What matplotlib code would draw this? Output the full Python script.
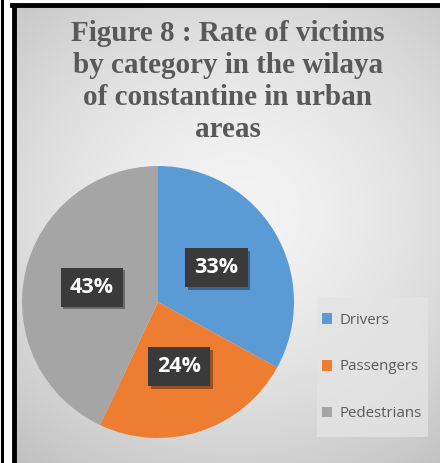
import numpy as np
import matplotlib
matplotlib.use("Agg")
import matplotlib.pyplot as plt
import matplotlib.patheffects as pe
from matplotlib.lines import Line2D
from matplotlib.patches import Rectangle

categories = ["Drivers", "Passengers", "Pedestrians"]
shares = [33, 24, 43]
colors = ["#5B9BD5", "#ED7D31", "#A5A5A5"]
title = "Figure 8 : Rate of victims\nby category in the wilaya\nof constantine in urban\nareas"

W, H = 440, 463
fig = plt.figure(figsize=(W / 100, H / 100), dpi=100, facecolor="white")

# background panel with soft radial gradient, drawn in pixel coords
bg = fig.add_axes([0, 0, 1, 1])
bg.set_xlim(0, W)
bg.set_ylim(H, 0)
bg.axis("off")
yy, xx = np.mgrid[0:H, 0:W]
dist = np.hypot((xx - 230) / 1.0, (yy - 210) / 0.9)
val = np.clip(0.955 - (dist / 380) ** 1.6 * 0.22, 0.72, 0.96)
bg.imshow(np.dstack([val] * 3), extent=(14, W, H, 5), aspect="auto", zorder=0)
bg.add_line(Line2D([1.5, 1.5], [0, H], color="black", lw=2.2))
bg.add_line(Line2D([13.5, 13.5], [H, 4.5], color="black", lw=3.5))
bg.add_line(Line2D([12, W], [4.5, 4.5], color="black", lw=3.5))
# legend panel
bg.add_patch(Rectangle((317, 297), 111, 140, facecolor="#e4e4e4", alpha=0.8,
                       edgecolor="none", zorder=1))

fig.text(0.518, 0.957, title, ha="center", va="top", family="Liberation Serif",
         weight="bold", fontsize=21, color="#595959", linespacing=1.24)

ax = fig.add_axes([22 / W, (H - 438) / H, 272 / W, 272 / H])
wedges, texts, autotexts = ax.pie(
    shares, colors=colors, startangle=90, counterclock=False,
    autopct="%1.0f%%", pctdistance=0.5, radius=1,
    wedgeprops=dict(linewidth=0),
    textprops=dict(color="white", fontsize=15.5, weight="bold", family="Open Sans"))
ax.set_xlim(-1, 1)
ax.set_ylim(-1, 1)
ax.set_aspect("equal")
for t in autotexts:
    t.set_bbox(dict(boxstyle="square,pad=0.42", facecolor="#3a3a3a", edgecolor="none"))
    t.get_bbox_patch().set_path_effects(
        [pe.withSimplePatchShadow(offset=(2, -2), shadow_rgbFace="black", alpha=0.35)])

leg = fig.legend(wedges, categories, loc="center",
                 bbox_to_anchor=(371.5 / W, (H - 367) / H), borderaxespad=0,
                 frameon=False, handlelength=0.7, handleheight=0.7, handletextpad=0.45,
                 labelspacing=2.12, borderpad=0.3,
                 prop=dict(family="Open Sans", size=10.8))
for txt in leg.get_texts():
    txt.set_color("#595959")

fig.savefig("out.png", dpi=100, facecolor="white")
